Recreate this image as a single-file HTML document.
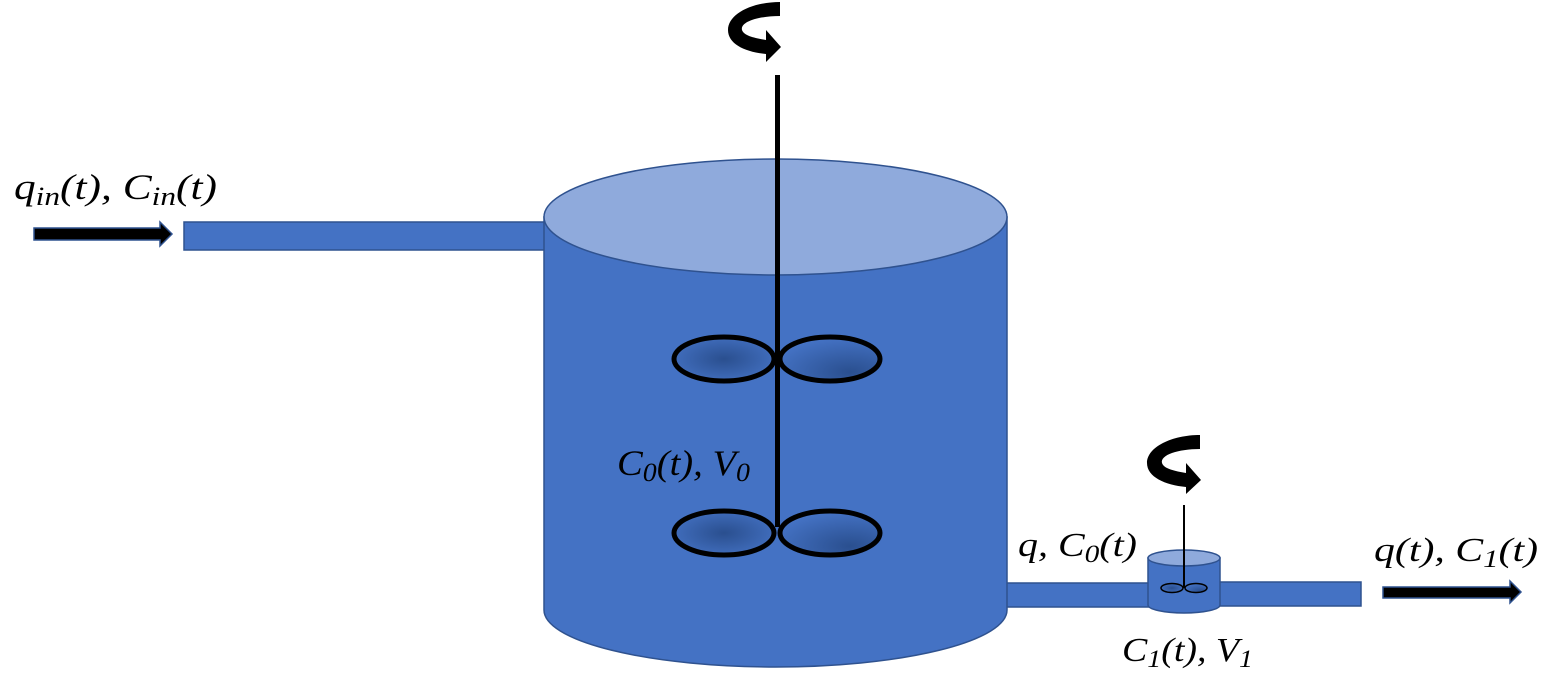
<!DOCTYPE html>
<html><head><meta charset="utf-8"><style>
html,body{margin:0;padding:0;background:#fff;}
svg{display:block;}
text{font-family:"Liberation Serif",serif;font-style:italic;fill:#000;}
</style></head><body>
<svg width="1557" height="677" viewBox="0 0 1557 677" xmlns="http://www.w3.org/2000/svg">
<defs>
<radialGradient id="g1" cx="0.5" cy="0.5" r="0.6">
<stop offset="0" stop-color="#2a4f8f"/><stop offset="1" stop-color="#4472c4"/></radialGradient>
<radialGradient id="g2" cx="0.7" cy="0.8" r="0.8">
<stop offset="0" stop-color="#2a4f8f"/><stop offset="1" stop-color="#4472c4"/></radialGradient>
</defs>
<rect x="184" y="222" width="362" height="28" fill="#4472c4" stroke="#2f528f" stroke-width="1.5"/>
<path d="M34 228 H160 V222 L172 234 L160 246 V240 H34 Z" fill="#000" stroke="#2f528f" stroke-width="1.5"/>
<rect x="1005" y="583" width="145" height="24" fill="#4472c4" stroke="#2f528f" stroke-width="1.5"/>
<rect x="1218" y="582" width="143" height="24" fill="#4472c4" stroke="#2f528f" stroke-width="1.5"/>
<path d="M1383 587 H1510 V581 L1521 592 L1510 603 V598 H1383 Z" fill="#000" stroke="#2f528f" stroke-width="1.5"/>
<path d="M544 217 V610 A231.5 57 0 0 0 1007 610 V217 Z" fill="#4472c4" stroke="#2f528f" stroke-width="1.5"/>
<ellipse cx="775.5" cy="217" rx="231.5" ry="58" fill="#8faadc" stroke="#2f528f" stroke-width="1.5"/>
<rect x="775" y="75" width="5" height="452" fill="#000"/>
<ellipse cx="724" cy="359" rx="50" ry="22" fill="url(#g1)" stroke="#000" stroke-width="5"/>
<ellipse cx="830" cy="359" rx="50" ry="22" fill="url(#g2)" stroke="#000" stroke-width="5"/>
<ellipse cx="724" cy="533" rx="50" ry="22" fill="url(#g1)" stroke="#000" stroke-width="5"/>
<ellipse cx="830" cy="533" rx="50" ry="22" fill="url(#g2)" stroke="#000" stroke-width="5"/>
<path d="M1148 558 V605 A36 8 0 0 0 1220 605 V558 Z" fill="#4472c4" stroke="#2f528f" stroke-width="1.5"/>
<ellipse cx="1184" cy="558" rx="36" ry="8" fill="#8faadc" stroke="#2f528f" stroke-width="1.5"/>
<rect x="1183" y="505" width="2" height="83" fill="#000"/>
<ellipse cx="1172" cy="588" rx="11" ry="4.5" fill="url(#g1)" stroke="#000" stroke-width="1.5"/>
<ellipse cx="1196" cy="588" rx="11" ry="4.5" fill="url(#g2)" stroke="#000" stroke-width="1.5"/>
<path d="M780 2 V16 C 758 16 740 22 742 30 C 744 36 755 38 766 40 L766 30 L781 47 L766 62 L766 54 C 745 52 728 44 728 30 C 728 14 752 2 780 2 Z" fill="#000"/>
<path d="M1200 435 V449 C 1178 449 1160 455 1162 463 C 1164 469 1175 471 1186 473 L1186 463 L1201 480 L1186 494 L1186 487 C 1165 485 1147 477 1147 463 C 1147 447 1172 435 1200 435 Z" fill="#000"/>
<text x="14" y="199" font-size="36" textLength="203" lengthAdjust="spacingAndGlyphs">q<tspan font-size="26" dy="6">in</tspan><tspan dy="-6">(t), C</tspan><tspan font-size="26" dy="6">in</tspan><tspan dy="-6">(t)</tspan></text>
<text x="617" y="475" font-size="36" textLength="133" lengthAdjust="spacingAndGlyphs">C<tspan font-size="26" dy="6">0</tspan><tspan dy="-6">(t), V</tspan><tspan font-size="26" dy="6">0</tspan></text>
<text x="1018" y="556" font-size="34" textLength="119" lengthAdjust="spacingAndGlyphs">q, C<tspan font-size="25" dy="6">0</tspan><tspan dy="-6">(t)</tspan></text>
<text x="1122" y="661" font-size="34" textLength="131" lengthAdjust="spacingAndGlyphs">C<tspan font-size="25" dy="6">1</tspan><tspan dy="-6">(t), V</tspan><tspan font-size="25" dy="6">1</tspan></text>
<text x="1374" y="561" font-size="34" textLength="164" lengthAdjust="spacingAndGlyphs">q(t), C<tspan font-size="25" dy="6">1</tspan><tspan dy="-6">(t)</tspan></text>
</svg>
</body></html>
